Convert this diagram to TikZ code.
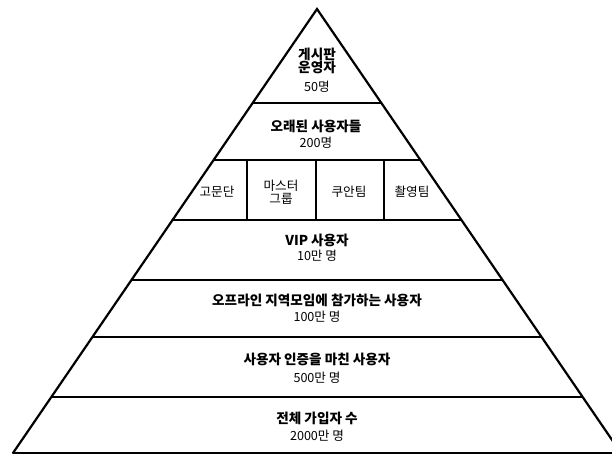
\documentclass[tikz,border=0pt]{standalone}
\usepackage{fontspec}
\newfontfamily\kr{Noto Sans CJK KR}
\usetikzlibrary{calc}
\tikzset{
  side/.style={line width=2.2pt, line cap=round},
  band/.style={line width=1.6pt},
  title/.style={font=\kr\bfseries\fontsize{13.6}{15}\selectfont, inner sep=0pt, align=center},
  count/.style={font=\kr\fontsize{12.6}{13}\selectfont, inner sep=0pt},
  small/.style={font=\kr\fontsize{12.6}{14.5}\selectfont, inner sep=0pt, align=center}
}
\begin{document}
\begin{tikzpicture}[x=1pt,y=-1pt]
\useasboundingbox (0,0) rectangle (612,456);
\clip (0,0) rectangle (612,456);
\fill[white] (0,0) rectangle (612,456);
\coordinate (A) at (317,9);
\coordinate (BL) at (13,453);
\coordinate (BR) at (621,453);
% sides
\draw[side] (BL) -- (A) -- (BR);
% horizontal bands
\foreach \yy/\nm in {103/h1,160/h2,220/h3,280/h4,337/h5,397/h6}{
  \coordinate (\nm l) at ($(A)!{(\yy-9)/444}!(BL)$);
  \coordinate (\nm r) at ($(A)!{(\yy-9)/444}!(BR)$);
  \draw[band] (\nm l) -- (\nm r);
}
\draw[line width=1.3pt] (BL) -- (BR);
% dividers
\coordinate (d1t) at (247,160); \coordinate (d1b) at (247,220);
\coordinate (d2t) at (316,160); \coordinate (d2b) at (316,220);
\coordinate (d3t) at (384,160); \coordinate (d3b) at (384,220);
\draw[line width=1.3pt] (d1t) -- (d1b);
\draw[line width=1.3pt] (d2t) -- (d2b);
\draw[line width=1.3pt] (d3t) -- (d3b);
% texts
\node[title] (t1) at (317,61) {게시판\\[-1.5pt]운영자};
\node[count] (n1) at (317,87) {50명};
\node[title] (t2) at (316,126) {오래된 사용자들};
\node[count] (n2) at (316,143) {200명};
\node[small] (s1) at (217,192) {고문단};
\node[small] (s2) at (281,192) {마스터\\[-1.5pt]그룹};
\node[small] (s3) at (349,192) {쿠안팀};
\node[small] (s4) at (412,192) {촬영팀};
\node[title] (t3) at (317,240) {VIP 사용자};
\node[count] (n3) at (317,256) {10만 명};
\node[title] (t4) at (317,300) {오프라인 지역모임에 참가하는 사용자};
\node[count] (n4) at (317,317) {100만 명};
\node[title] (t5) at (317,359) {사용자 인증을 마친 사용자};
\node[count] (n5) at (317,378) {500만 명};
\node[title] (t6) at (317,418) {전체 가입자 수};
\node[count] (n6) at (317,436) {2000만 명};
\end{tikzpicture}
\end{document}
